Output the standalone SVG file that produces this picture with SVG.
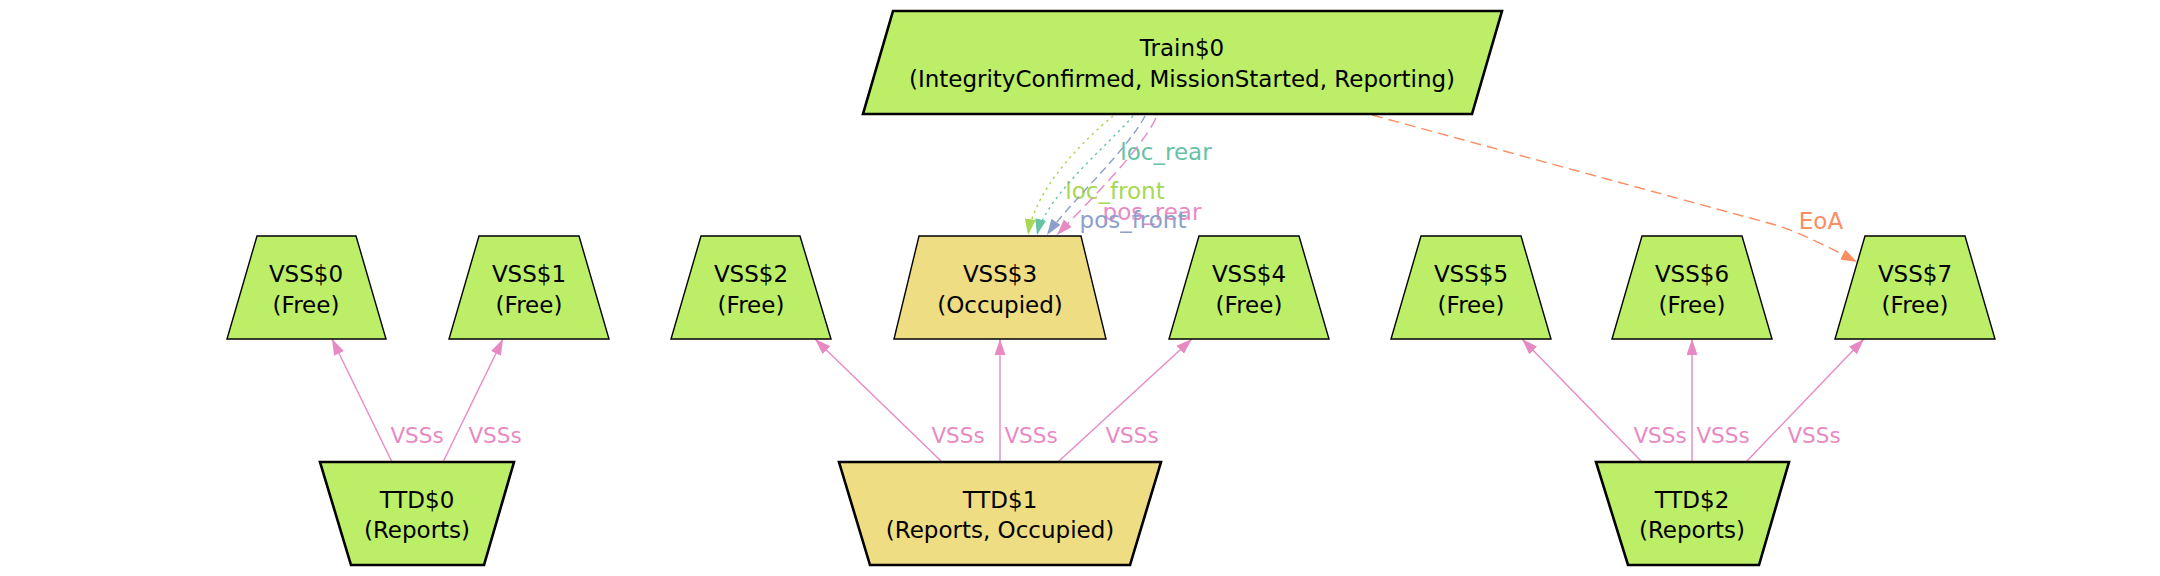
<svg xmlns="http://www.w3.org/2000/svg" width="2160" height="576" viewBox="0 0 2160 576">
<style>
.bg{fill:#ffffff}
.green{fill:#bcee68}
.gold{fill:#eedd82}
.thin{stroke:#000;stroke-width:1.4}
.thick{stroke:#000;stroke-width:2.6}
.nl{font-family:"DejaVu Sans",sans-serif;font-size:23px;fill:#000;text-anchor:middle}
.el{font-family:"DejaVu Sans",sans-serif;font-size:23px;text-anchor:middle}
.vl{font-family:"DejaVu Sans",sans-serif;font-size:21.5px;text-anchor:middle;fill:#e78ac3}
.e{fill:none;stroke-width:1.4}
.pink{stroke:#e78ac3}
.teal{stroke:#66c2a5}
.lgreen{stroke:#a6d854}
.blue{stroke:#8da0cb}
.orange{stroke:#fc8d62}
.dot{stroke-dasharray:2.5,4}
.dash{stroke-dasharray:8,5}
.dashl{stroke-dasharray:11,6}
</style>
<defs>
<marker id="aPink" markerUnits="userSpaceOnUse" markerWidth="17" markerHeight="12" refX="16" refY="5.5" orient="auto"><path d="M0,0 L16,5.5 L0,11 z" fill="#e78ac3"/></marker>
<marker id="aTeal" markerUnits="userSpaceOnUse" markerWidth="17" markerHeight="12" refX="16" refY="5.5" orient="auto"><path d="M0,0 L16,5.5 L0,11 z" fill="#66c2a5"/></marker>
<marker id="aGreen" markerUnits="userSpaceOnUse" markerWidth="17" markerHeight="12" refX="16" refY="5.5" orient="auto"><path d="M0,0 L16,5.5 L0,11 z" fill="#a6d854"/></marker>
<marker id="aBlue" markerUnits="userSpaceOnUse" markerWidth="17" markerHeight="12" refX="16" refY="5.5" orient="auto"><path d="M0,0 L16,5.5 L0,11 z" fill="#8da0cb"/></marker>
<marker id="aOrange" markerUnits="userSpaceOnUse" markerWidth="17" markerHeight="12" refX="16" refY="5.5" orient="auto"><path d="M0,0 L16,5.5 L0,11 z" fill="#fc8d62"/></marker>
</defs>
<rect class="bg" x="0" y="0" width="2160" height="576"/>

<g id="connectors">
  <g id="e-train-vss3-loc_front">
    <path class="e lgreen dot" d="M1113,116 C1084,140 1035,188 1028,235" marker-end="url(#aGreen)"/>
    <text class="el" x="1115" y="199" fill="#a6d854">loc_front</text>
  </g>
  <g id="e-train-vss3-loc_rear">
    <path class="e teal dot" d="M1133,116 C1105,148 1046,196 1037,235" marker-end="url(#aTeal)"/>
    <text class="el" x="1166" y="160" fill="#66c2a5">loc_rear</text>
  </g>
  <g id="e-train-vss3-pos_rear">
    <path class="e pink dashl" d="M1156,118 C1140,152 1082,208 1057,235" marker-end="url(#aPink)"/>
    <text class="el" x="1152" y="220" fill="#e78ac3">pos_rear</text>
  </g>
  <g id="e-train-vss3-pos_front">
    <path class="e blue dash" d="M1145,116 C1126,152 1068,204 1047,235" marker-end="url(#aBlue)"/>
    <text class="el" x="1133" y="228" fill="#8da0cb">pos_front</text>
  </g>
  <g id="e-train-vss7-eoa">
    <path class="e orange dashl" d="M1372,115 L1772,224 C1800,232 1830,248 1857,262" marker-end="url(#aOrange)"/>
    <text class="el" x="1821" y="229" fill="#fc8d62">EoA</text>
  </g>
  <g id="e-ttd0-vss0"><path class="e pink" d="M392,462 L332,339" marker-end="url(#aPink)"/><text class="vl" x="417" y="443">VSSs</text></g>
  <g id="e-ttd0-vss1"><path class="e pink" d="M443,462 L503,339" marker-end="url(#aPink)"/><text class="vl" x="495" y="443">VSSs</text></g>
  <g id="e-ttd1-vss2"><path class="e pink" d="M942,462 L815,339" marker-end="url(#aPink)"/><text class="vl" x="958" y="443">VSSs</text></g>
  <g id="e-ttd1-vss3"><path class="e pink" d="M1000,462 L1000,339" marker-end="url(#aPink)"/><text class="vl" x="1031" y="443">VSSs</text></g>
  <g id="e-ttd1-vss4"><path class="e pink" d="M1058,462 L1192,339" marker-end="url(#aPink)"/><text class="vl" x="1132" y="443">VSSs</text></g>
  <g id="e-ttd2-vss5"><path class="e pink" d="M1642,462 L1522,339" marker-end="url(#aPink)"/><text class="vl" x="1660" y="443">VSSs</text></g>
  <g id="e-ttd2-vss6"><path class="e pink" d="M1692,462 L1692,339" marker-end="url(#aPink)"/><text class="vl" x="1723" y="443">VSSs</text></g>
  <g id="e-ttd2-vss7"><path class="e pink" d="M1746,462 L1864,339" marker-end="url(#aPink)"/><text class="vl" x="1814" y="443">VSSs</text></g>
</g>

<g id="train0">
  <polygon class="green thick" points="893,11 1502,11 1472,114 863,114"/>
  <text class="nl" x="1182" y="56">Train$0</text>
  <text class="nl" x="1182" y="87">(IntegrityConfirmed, MissionStarted, Reporting)</text>
</g>

<g id="vss0">
  <polygon class="green thin" points="257,236 356,236 386,339 227,339"/>
  <text class="nl" x="306" y="282">VSS$0</text><text class="nl" x="306" y="313">(Free)</text>
</g>
<g id="vss1">
  <polygon class="green thin" points="479,236 579,236 609,339 449,339"/>
  <text class="nl" x="529" y="282">VSS$1</text><text class="nl" x="529" y="313">(Free)</text>
</g>
<g id="vss2">
  <polygon class="green thin" points="701,236 800,236 831,339 671,339"/>
  <text class="nl" x="751" y="282">VSS$2</text><text class="nl" x="751" y="313">(Free)</text>
</g>
<g id="vss3">
  <polygon class="gold thin" points="919,236 1081,236 1106,339 894,339"/>
  <text class="nl" x="1000" y="282">VSS$3</text><text class="nl" x="1000" y="313">(Occupied)</text>
</g>
<g id="vss4">
  <polygon class="green thin" points="1199,236 1299,236 1329,339 1169,339"/>
  <text class="nl" x="1249" y="282">VSS$4</text><text class="nl" x="1249" y="313">(Free)</text>
</g>
<g id="vss5">
  <polygon class="green thin" points="1421,236 1521,236 1551,339 1391,339"/>
  <text class="nl" x="1471" y="282">VSS$5</text><text class="nl" x="1471" y="313">(Free)</text>
</g>
<g id="vss6">
  <polygon class="green thin" points="1642,236 1742,236 1772,339 1612,339"/>
  <text class="nl" x="1692" y="282">VSS$6</text><text class="nl" x="1692" y="313">(Free)</text>
</g>
<g id="vss7">
  <polygon class="green thin" points="1865,236 1965,236 1995,339 1835,339"/>
  <text class="nl" x="1915" y="282">VSS$7</text><text class="nl" x="1915" y="313">(Free)</text>
</g>

<g id="ttd0">
  <polygon class="green thick" points="320,462 514,462 484,565 351,565"/>
  <text class="nl" x="417" y="508">TTD$0</text><text class="nl" x="417" y="538">(Reports)</text>
</g>
<g id="ttd1">
  <polygon class="gold thick" points="839,462 1161,462 1130,565 870,565"/>
  <text class="nl" x="1000" y="508">TTD$1</text><text class="nl" x="1000" y="538">(Reports, Occupied)</text>
</g>
<g id="ttd2">
  <polygon class="green thick" points="1596,462 1789,462 1759,565 1628,565"/>
  <text class="nl" x="1692" y="508">TTD$2</text><text class="nl" x="1692" y="538">(Reports)</text>
</g>
</svg>
